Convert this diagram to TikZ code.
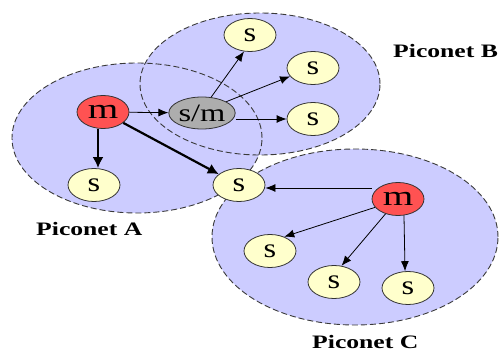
\documentclass[tikz,border=0pt]{standalone}
\usepackage{fontspec}
\setmainfont{Liberation Serif}
\usetikzlibrary{shapes.geometric,arrows.meta}
\definecolor{netfill}{HTML}{CCCCFF}
\definecolor{netline}{HTML}{3A3A3A}
\definecolor{masterred}{HTML}{FF5252}
\definecolor{bridgegray}{HTML}{ADADAD}
\definecolor{slaveyellow}{HTML}{FFFFCC}
\newcommand{\wide}[2][1.4]{\scalebox{#1}[1]{#2}}
\tikzset{
  net/.style={draw=netline, line width=0.9pt, dash pattern=on 6pt off 3pt},
  dev/.style={ellipse, draw=black!80, line width=0.8pt, inner sep=0pt,
    minimum width=52pt, minimum height=33pt,
    font=\fontsize{28}{28}\selectfont},
  master/.style={dev, fill=masterred},
  bridge/.style={dev, fill=bridgegray, minimum width=62pt, minimum height=32pt,
    font=\fontsize{25}{25}\selectfont},
  slave/.style={dev, fill=slaveyellow, font=\fontsize{27}{27}\selectfont},
  link/.style={-{Latex[length=10pt,width=8pt]}, line width=0.8pt},
  heavylink/.style={-{Latex[length=11pt,width=11pt]}, line width=2.2pt},
  netlabel/.style={anchor=west, inner sep=0pt, font=\fontsize{19}{19}\selectfont\bfseries}
}
\begin{document}
\begin{tikzpicture}[x=1pt, y=-1pt]
\path[use as bounding box, clip] (0,0) rectangle (499,353);

% piconet areas: fills first, then the dashed rims on top
\fill[netfill] (137,138) ellipse [x radius=125pt, y radius=75pt];
\fill[netfill] (260,84) ellipse [x radius=120pt, y radius=71pt];
\fill[netfill] (355,237) ellipse [x radius=143pt, y radius=88pt];
\draw[net] (137,138) ellipse [x radius=125pt, y radius=75pt];
\draw[net] (260,84) ellipse [x radius=120pt, y radius=71pt];
\draw[net] (355,237) ellipse [x radius=143pt, y radius=88pt];

% devices
\node[master] (mA) at (103,112) {\wide{m}};
\node[bridge] (sm) at (202,113) {\wide[1.3]{s/m}};
\node[slave] (sA) at (94,185) {\wide[1.2]{s}};
\node[slave] (sX) at (239,185) {\wide[1.2]{s}};
\node[slave] (sB1) at (250,35) {\wide[1.2]{s}};
\node[slave] (sB2) at (313,68) {\wide[1.2]{s}};
\node[slave] (sB3) at (313,119) {\wide[1.2]{s}};
\node[master] (mC) at (398,199) {\wide{m}};
\node[slave] (sC1) at (270,251) {\wide[1.2]{s}};
\node[slave] (sC2) at (334,282) {\wide[1.2]{s}};
\node[slave] (sC3) at (408,288) {\wide[1.2]{s}};

% links
\draw[link] (mA) -- (sm);
\draw[heavylink] (mA.south -| 98,0) -- (sA.north -| 98,0);
\draw[heavylink] (mA) -- (sX);
\draw[link] (sm.60) -- (sB1.250);
\draw[link] (sm.25) -- (sB2.200);
\draw[link] (sm.east |- sB3.west) -- (sB3.west);
\draw[link] (mC.west |- 0,188) -- (sX.east |- 0,188);
\draw[link] (mC.200) -- (sC1.45);
\draw[link] (mC.230) -- (sC2.65);
\draw[link] (mC.290) -- (sC3.100);

% labels
\node[netlabel] (labA) at (36,229) {\scalebox{1.35}[1]{Piconet A}};
\node[netlabel] (labB) at (393,51) {\scalebox{1.35}[1]{Piconet B}};
\node[netlabel] (labC) at (312,342) {\scalebox{1.35}[1]{Piconet C}};
\end{tikzpicture}
\end{document}
